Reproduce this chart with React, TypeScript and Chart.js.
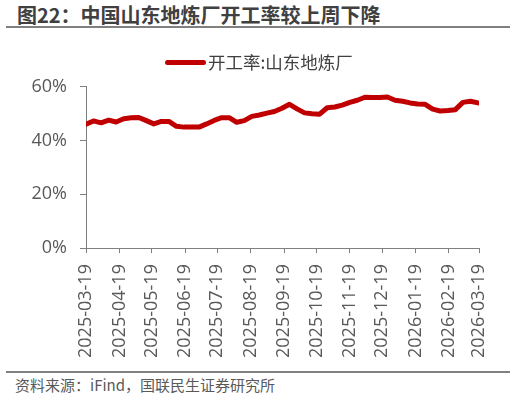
import React, { useEffect, useRef } from "react";
import { Chart, registerables } from "chart.js";

Chart.register(...registerables);

const TITLE = "图22：中国山东地炼厂开工率较上周下降";
const SOURCE = "资料来源：iFind，国联民生证券研究所";
const SERIES_NAME = "开工率:山东地炼厂";

const weekDates = [
  "2025-03-19", "2025-03-26", "2025-04-02", "2025-04-09", "2025-04-16", "2025-04-23", "2025-04-30",
  "2025-05-07", "2025-05-14", "2025-05-21", "2025-05-28", "2025-06-04", "2025-06-11", "2025-06-18",
  "2025-06-25", "2025-07-02", "2025-07-09", "2025-07-16", "2025-07-23", "2025-07-30", "2025-08-06",
  "2025-08-13", "2025-08-20", "2025-08-27", "2025-09-03", "2025-09-10", "2025-09-17", "2025-09-24",
  "2025-10-01", "2025-10-08", "2025-10-15", "2025-10-22", "2025-10-29", "2025-11-05", "2025-11-12",
  "2025-11-19", "2025-11-26", "2025-12-03", "2025-12-10", "2025-12-17", "2025-12-24", "2025-12-31",
  "2026-01-07", "2026-01-14", "2026-01-21", "2026-01-28", "2026-02-04", "2026-02-11", "2026-02-18",
  "2026-02-25", "2026-03-04", "2026-03-11", "2026-03-18",
];

const utilization = [
  46.1, 47.3, 46.6, 47.6, 46.9, 48.1, 48.5, 48.6, 47.4, 46.2,
  47.1, 47.1, 45.3, 45.0, 45.0, 45.0, 46.2, 47.5, 48.5, 48.5,
  46.8, 47.4, 49.0, 49.5, 50.2, 50.8, 52.0, 53.5, 51.8, 50.3,
  50.0, 49.8, 52.2, 52.5, 53.2, 54.2, 55.0, 56.1, 56.0, 56.0,
  56.2, 55.0, 54.6, 54.0, 53.6, 53.5, 51.7, 51.0, 51.2, 51.5,
  54.2, 54.6, 54.0,
];

const tickDates = [
  "2025-03-19", "2025-04-19", "2025-05-19", "2025-06-19", "2025-07-19", "2025-08-19", "2025-09-19",
  "2025-10-19", "2025-11-19", "2025-12-19", "2026-01-19", "2026-02-19", "2026-03-19",
];

const yTicks = [0, 20, 40, 60];

const RED = "#C00000";
const AXIS = "#808080";
const TEXT = "#595959";
const FONT = "'Open Sans', 'Noto Sans CJK SC', sans-serif";
const CJK = "'Noto Sans CJK SC', sans-serif";

const toDay = (s: string) => {
  const [y, m, d] = s.split("-").map(Number);
  const [y0, m0, d0] = tickDates[0].split("-").map(Number);
  return (Date.UTC(y, m - 1, d) - Date.UTC(y0, m0 - 1, d0)) / 86400000;
};

export default function App() {
  const ref = useRef<HTMLCanvasElement | null>(null);

  useEffect(() => {
    if (!ref.current) return;
    const tickDays = tickDates.map(toDay);
    const chart = new Chart(ref.current, {
      type: "line",
      data: {
        datasets: [
          {
            label: SERIES_NAME,
            data: weekDates.map((d, i) => ({ x: toDay(d), y: utilization[i] })),
            borderColor: RED,
            backgroundColor: RED,
            borderWidth: 5,
            pointRadius: 0,
            tension: 0,
            borderJoinStyle: "round",
            borderCapStyle: "round",
          },
        ],
      },
      options: {
        animation: false,
        responsive: false,
        devicePixelRatio: 1,
        layout: { padding: { left: 0, right: 37, top: 0, bottom: 0 } },
        plugins: {
          tooltip: { enabled: false },
          legend: { display: false },
        },
        scales: {
          x: {
            type: "linear",
            min: tickDays[0],
            max: tickDays[tickDays.length - 1],
            afterBuildTicks: (s: any) => {
              s.ticks = tickDays.map((v) => ({ value: v }));
            },
            grid: {
              drawOnChartArea: false,
              drawTicks: true,
              tickLength: 5,
              color: AXIS,
            },
            border: { color: AXIS, width: 1 },
            ticks: {
              autoSkip: false,
              minRotation: 90,
              maxRotation: 90,
              padding: 11,
              color: TEXT,
              font: { family: FONT, size: 18 },
              callback: (_v: any, i: number) => tickDates[i],
            },
          },
          y: {
            min: 0,
            max: 60,
            afterBuildTicks: (s: any) => {
              s.ticks = yTicks.map((v) => ({ value: v }));
            },
            afterFit: (s: any) => {
              s.width = 86;
            },
            grid: {
              drawOnChartArea: false,
              drawTicks: true,
              tickLength: 6,
              color: AXIS,
            },
            border: { color: AXIS, width: 1 },
            ticks: {
              padding: 13,
              color: TEXT,
              font: { family: FONT, size: 18 },
              callback: (v: any) => v + "%",
            },
          },
        },
      },
    });
    return () => chart.destroy();
  }, []);

  return (
    <div
      style={{
        position: "fixed",
        left: 0,
        top: 0,
        width: 516,
        height: 400,
        background: "#fff",
        overflow: "hidden",
      }}
    >
      <div
        style={{
          position: "absolute",
          left: 17,
          top: 4,
          fontFamily: CJK,
          fontWeight: 700,
          fontSize: 20,
          lineHeight: "22px",
          color: "#404040",
          whiteSpace: "nowrap",
        }}
      >
        {TITLE}
      </div>
      <div style={{ position: "absolute", left: 6, top: 26, width: 504, height: 2, background: AXIS }} />
      <canvas
        ref={ref}
        width={516}
        height={306}
        style={{ position: "absolute", left: 0, top: 63, width: 516, height: 306 }}
      />
      <div
        style={{
          position: "absolute",
          left: 165,
          top: 52,
          height: 20,
          display: "flex",
          alignItems: "center",
          whiteSpace: "nowrap",
        }}
      >
        <div style={{ width: 41, height: 5, borderRadius: 3, background: RED, marginRight: 2 }} />
        <span style={{ fontFamily: CJK, fontSize: 17.5, lineHeight: "20px", color: "#404040" }}>
          {SERIES_NAME}
        </span>
      </div>
      <div style={{ position: "absolute", left: 6, top: 371, width: 504, height: 2, background: AXIS }} />
      <div
        style={{
          position: "absolute",
          left: 15,
          top: 376,
          fontFamily: CJK,
          fontSize: 15,
          lineHeight: "18px",
          color: TEXT,
          whiteSpace: "nowrap",
        }}
      >
        {SOURCE}
      </div>
    </div>
  );
}
